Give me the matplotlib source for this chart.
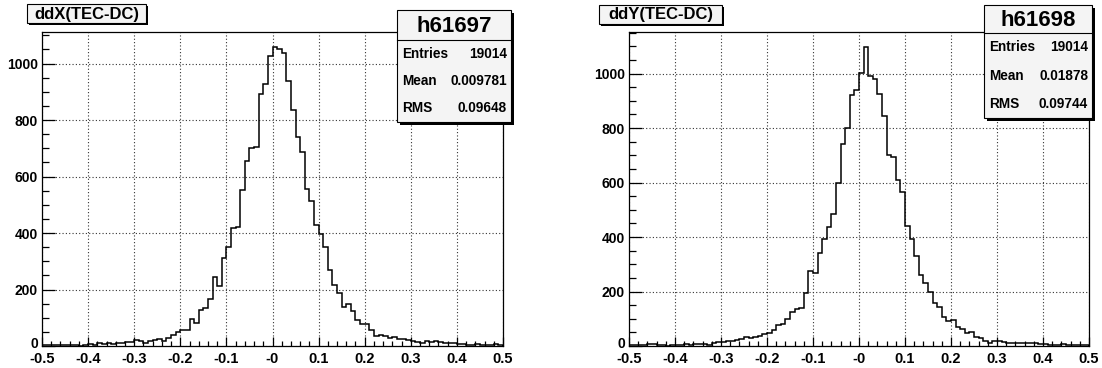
"""
Track residuals ddX / ddY (TEC-DC) drawn as ROOT-style histograms,
with a title pave and a statistics box above each pad.
"""

import numpy as np
import matplotlib
matplotlib.use("Agg")
import matplotlib.pyplot as plt
import matplotlib.transforms as mtransforms
from matplotlib.patches import Rectangle
from matplotlib.ticker import MultipleLocator

# 100 bins of width 0.01 between -0.5 and 0.5
BIN_LOW = -0.5
BIN_HIGH = 0.5
N_BINS = 100

DDX_COUNTS = [
    3, 4, 2, 5, 3, 2, 4, 2, 1, 3,
    8, 5, 10, 7, 12, 8, 12, 12, 13, 14,
    21, 17, 12, 19, 21, 25, 18, 30, 40, 51,
    55, 57, 95, 82, 127, 135, 165, 244, 214, 312,
    351, 418, 421, 554, 655, 702, 706, 892, 929, 1027,
    1059, 1053, 1039, 938, 836, 741, 686, 555, 514, 429,
    396, 349, 269, 215, 188, 137, 150, 123, 93, 79,
    77, 57, 37, 40, 35, 27, 31, 26, 24, 20,
    17, 15, 12, 18, 14, 17, 13, 11, 11, 10,
    8, 7, 5, 4, 7, 5, 4, 3, 6, 3,
]

DDY_COUNTS = [
    3, 2, 5, 2, 9, 7, 4, 2, 1, 3,
    4, 5, 7, 4, 8, 6, 8, 5, 10, 15,
    14, 18, 20, 22, 27, 33, 30, 33, 35, 45,
    46, 60, 77, 80, 100, 126, 135, 140, 195, 274,
    268, 340, 394, 438, 485, 600, 743, 802, 923, 939,
    1004, 1098, 991, 979, 924, 844, 701, 695, 610, 567,
    441, 394, 332, 262, 233, 197, 158, 142, 106, 91,
    96, 70, 62, 49, 50, 34, 28, 17, 12, 17,
    17, 13, 10, 11, 10, 10, 10, 11, 10, 8,
    6, 5, 5, 4, 6, 3, 4, 5, 4, 3,
]

X_TICKS = [-0.5, -0.4, -0.3, -0.2, -0.1, 0.0, 0.1, 0.2, 0.3, 0.4, 0.5]
X_TICK_LABELS = ["-0.5", "-0.4", "-0.3", "-0.2", "-0.1", "-0",
                 "0.1", "0.2", "0.3", "0.4", "0.5"]
Y_TICKS = [0, 200, 400, 600, 800, 1000]

STAT_NAMES = ["Entries", "Mean", "RMS"]
DDX_STATS = ["19014", "0.009781", "0.09648"]
DDY_STATS = ["19014", "0.01878", "0.09744"]

W, H = 1102, 368
FONT = "Liberation Sans"


def px_axes(fig, x0, x1, y0, y1):
    """Add an axes given its frame in pixel coordinates (y from top)."""
    return fig.add_axes([x0 / W, 1 - y1 / H, (x1 - x0) / W, (y1 - y0) / H])


def draw_histogram(fig, ax, counts):
    edges = np.linspace(BIN_LOW, BIN_HIGH, N_BINS + 1)
    ax.stairs(counts, edges, color="black", linewidth=1.1, baseline=0, zorder=3)

    ax.set_xlim(BIN_LOW, BIN_HIGH)
    ax.set_ylim(0, 1.05 * max(counts))

    ax.set_xticks(X_TICKS)
    ax.set_xticklabels(X_TICK_LABELS)
    ax.set_yticks(Y_TICKS)
    ax.xaxis.set_minor_locator(MultipleLocator(0.02))
    ax.yaxis.set_minor_locator(MultipleLocator(50))

    ax.grid(True, which="major", color="#333333", linestyle=(0, (1, 2)),
            linewidth=0.8, zorder=1)

    ax.tick_params(axis="both", which="both", direction="in",
                   top=False, right=False, width=0.9, color="black")
    ax.tick_params(axis="x", which="major", length=6.8, pad=4.0)
    ax.tick_params(axis="x", which="minor", length=3.3)
    ax.tick_params(axis="y", which="major", length=9.4, pad=3.0)
    ax.tick_params(axis="y", which="minor", length=5.0)

    for lbl in ax.get_xticklabels():
        lbl.set_fontfamily(FONT)
        lbl.set_fontweight("bold")
        lbl.set_fontsize(10.5)
    for lbl in ax.get_yticklabels():
        lbl.set_fontfamily(FONT)
        lbl.set_fontweight("bold")
        lbl.set_fontsize(10)

    # lift the "0" label a little so it sits clear of "-0.5"
    zero_lbl = ax.get_yticklabels()[0]
    zero_lbl.set_transform(zero_lbl.get_transform() +
                           mtransforms.ScaledTranslation(0, 3 / 100, fig.dpi_scale_trans))

    for sp in ax.spines.values():
        sp.set_linewidth(0.9)
        sp.set_color("black")


def shadow_box(ov, x0, y0, x1, y1, shadow=2.5):
    """Pave with a dark drop shadow on the right and bottom."""
    ov.add_patch(Rectangle((x0 + shadow, y0 + shadow), x1 - x0, y1 - y0,
                           facecolor="black", edgecolor="none"))
    ov.add_patch(Rectangle((x0, y0), x1 - x0, y1 - y0,
                           facecolor="#f4f4f4", edgecolor="black", linewidth=0.8))


def draw_title(ov, text, x0, y0, x1, y1):
    shadow_box(ov, x0, y0, x1, y1, shadow=2)
    ov.text((x0 + x1) / 2, (y0 + y1) / 2 + 0.5, text, ha="center", va="center",
            fontsize=12, fontweight="bold", family=FONT)


def draw_stats(ov, name, values, x0, y0, x1, y1, head):
    shadow_box(ov, x0, y0, x1, y1, shadow=3)
    ov.plot([x0, x1], [y0 + head, y0 + head], color="black", linewidth=0.8)
    ov.text((x0 + x1) / 2, y0 + head / 2 + 1, name, ha="center", va="center",
            fontsize=16, fontweight="bold", family=FONT)
    row_h = (y1 - y0 - head) / len(values)
    for i, (label, val) in enumerate(zip(STAT_NAMES, values)):
        yc = y0 + head + row_h * (i + 0.5)
        ov.text(x0 + 5, yc, label, ha="left", va="center",
                fontsize=9.8, fontweight="bold", family=FONT)
        ov.text(x1 - 4, yc, val, ha="right", va="center",
                fontsize=9.8, fontweight="bold", family=FONT)


def main():
    fig = plt.figure(figsize=(W / 100, H / 100), dpi=100)
    fig.patch.set_facecolor("white")

    ax_x = px_axes(fig, 42, 503, 32, 346)
    draw_histogram(fig, ax_x, DDX_COUNTS)

    ax_y = px_axes(fig, 629, 1089, 32, 346)
    draw_histogram(fig, ax_y, DDY_COUNTS)

    # overlay in pixel units for the paves
    ov = fig.add_axes([0, 0, 1, 1], zorder=10)
    ov.set_xlim(0, W)
    ov.set_ylim(H, 0)
    ov.axis("off")
    ov.patch.set_alpha(0)

    draw_title(ov, "ddX(TEC-DC)", 27, 4, 146, 23)
    draw_title(ov, "ddY(TEC-DC)", 599, 5, 722, 24)

    draw_stats(ov, "h61697", DDX_STATS, 397, 10, 511, 122, head=30)
    draw_stats(ov, "h61698", DDY_STATS, 984, 5, 1092, 118, head=28)

    fig.savefig("out.png", dpi=100)


if __name__ == "__main__":
    main()
